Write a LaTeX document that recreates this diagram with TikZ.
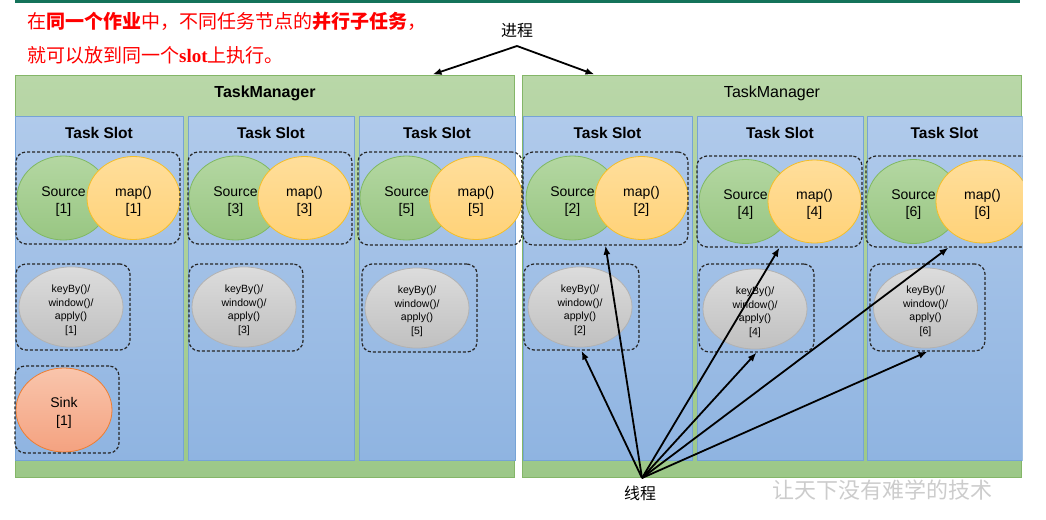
\documentclass[tikz,border=0pt]{standalone}
\usepackage{fontspec}
\setmainfont{Liberation Sans}
\newfontfamily\cjk{Noto Sans CJK SC}
\newfontfamily\tnr{Liberation Serif}
\usetikzlibrary{shapes.geometric,arrows.meta}

\definecolor{tmtop}{RGB}{185,215,168}
\definecolor{tmbot}{RGB}{156,200,136}
\definecolor{tmline}{RGB}{132,182,104}
\definecolor{slottop}{RGB}{176,202,235}
\definecolor{slotbot}{RGB}{143,180,225}
\definecolor{slotline}{RGB}{118,163,214}
\definecolor{srctop}{RGB}{180,215,162}
\definecolor{srcbot}{RGB}{152,198,130}
\definecolor{srcline}{RGB}{128,184,98}
\definecolor{maptop}{RGB}{255,222,155}
\definecolor{mapbot}{RGB}{255,210,120}
\definecolor{mapline}{RGB}{244,190,40}
\definecolor{optop}{RGB}{220,220,220}
\definecolor{opbot}{RGB}{192,192,192}
\definecolor{opline}{RGB}{178,178,178}
\definecolor{sinktop}{RGB}{249,197,172}
\definecolor{sinkbot}{RGB}{244,162,128}
\definecolor{sinkline}{RGB}{237,125,49}
\definecolor{rulecol}{RGB}{20,115,90}

% two-line operator label, nudged down inside its ellipse
\newcommand\oplabel[2]{\rule{0pt}{16pt}#1\\{[#2]}}
% four-line keyBy/window/apply label
\newcommand\kwlabel[1]{\rule{0pt}{14pt}keyBy()/\\window()/\\apply()\\{[#1]}}

\tikzset{
  tm/.style={draw=tmline, line width=1pt, top color=tmtop, bottom color=tmbot,
    minimum width=499pt, minimum height=402pt, inner sep=0pt},
  tmhead/.style={font=\fontsize{16}{16}\selectfont, anchor=base, inner sep=0pt},
  slotbox/.style={draw=slotline, line width=0.8pt, top color=slottop, bottom color=slotbot,
    minimum height=344pt, inner sep=0pt},
  slothead/.style={font=\bfseries\fontsize{15.5}{15.5}\selectfont, anchor=base, inner sep=0pt},
  grp/.style={draw=black!85, dash pattern=on 3pt off 2pt, line width=1.2pt,
    rounded corners=10pt, inner sep=0pt},
  src/.style={ellipse, draw=srcline, line width=0.8pt, top color=srctop, bottom color=srcbot,
    minimum width=93pt, minimum height=84pt, inner sep=0pt, align=center,
    font=\fontsize{14}{17}\selectfont},
  mapop/.style={ellipse, draw=mapline, line width=0.8pt, top color=maptop, bottom color=mapbot,
    minimum width=93pt, minimum height=83pt, inner sep=0pt, align=center,
    font=\fontsize{14}{17}\selectfont},
  kwop/.style={ellipse, draw=opline, line width=0.8pt, top color=optop, bottom color=opbot,
    minimum width=104pt, minimum height=80pt, inner sep=0pt, align=center,
    font=\fontsize{10.5}{13.5}\selectfont},
  sinkop/.style={ellipse, draw=sinkline, line width=0.8pt, top color=sinktop, bottom color=sinkbot,
    minimum width=96pt, minimum height=84pt, inner sep=0pt, align=center,
    font=\fontsize{14}{18}\selectfont},
  wire/.style={line width=1.8pt, -{Latex[length=9pt,width=7pt]}},
  cjklabel/.style={font=\cjk\fontsize{16}{16}\selectfont, inner sep=0pt},
}

\begin{document}
\begin{tikzpicture}[x=1pt,y=-1pt]
\useasboundingbox (0,0) rectangle (1046,519);

% heading rule and explanatory note
\draw[rulecol, line width=3pt] (15,1.5) -- (1020,1.5);
\node[anchor=west, text=red, inner sep=0pt, font=\cjk\fontsize{19}{19}\selectfont] (note1) at (27,21)
  {在\textbf{同一个作业}中，不同任务节点的\textbf{并行子任务}，};
\node[anchor=west, text=red, inner sep=0pt, font=\cjk\fontsize{19}{19}\selectfont] (note2) at (27,55)
  {就可以放到同一个{\tnr\bfseries slot}上执行。};

\begin{scope}
\clip (0,0) rectangle (1022.5,519);

% two task managers
\node[tm] (tmL) at (264.5,276) {};
\node[tm] (tmR) at (771.5,276) {};
\node[tmhead] (hL) at (265,97) {\bfseries TaskManager};
\node[tmhead] (hR) at (772,97) {TaskManager};

% task slots
\node[slotbox, minimum width=168pt] (sl1) at (99,288) {};
\node[slotbox, minimum width=166pt] (sl2) at (271,288) {};
\node[slotbox, minimum width=156pt] (sl3) at (437,288) {};
\node[slotbox, minimum width=169pt] (sl4) at (607.5,288) {};
\node[slotbox, minimum width=166pt] (sl5) at (780,288) {};
\node[slotbox, minimum width=155pt] (sl6) at (944.5,288) {};
\node[slothead] (th1) at (99,138) {Task Slot};
\node[slothead] (th2) at (271,138) {Task Slot};
\node[slothead] (th3) at (437,138) {Task Slot};
\node[slothead] (th4) at (607.5,138) {Task Slot};
\node[slothead] (th5) at (780,138) {Task Slot};
\node[slothead] (th6) at (944.5,138) {Task Slot};

% source + map chains
\node[src] (src1) at (63.5,198) {\oplabel{Source}{1}};
\node[mapop] (map1) at (133.5,198) {\oplabel{map()}{1}};
\node[src] (src3) at (235.5,198) {\oplabel{Source}{3}};
\node[mapop] (map3) at (304.5,198) {\oplabel{map()}{3}};
\node[src] (src5) at (406.5,198) {\oplabel{Source}{5}};
\node[mapop] (map5) at (476,198) {\oplabel{map()}{5}};
\node[src] (src2) at (572.5,198) {\oplabel{Source}{2}};
\node[mapop] (map2) at (641.5,198) {\oplabel{map()}{2}};
\node[src] (src4) at (745.5,201.5) {\oplabel{Source}{4}};
\node[mapop] (map4) at (814.5,201.5) {\oplabel{map()}{4}};
\node[src] (src6) at (913.5,201.5) {\oplabel{Source}{6}};
\node[mapop] (map6) at (982.5,201.5) {\oplabel{map()}{6}};

% keyBy/window/apply operators
\node[kwop] (kw1) at (71,307) {\kwlabel{1}};
\node[kwop] (kw3) at (244,307) {\kwlabel{3}};
\node[kwop] (kw5) at (417,308) {\kwlabel{5}};
\node[kwop] (kw2) at (580,307) {\kwlabel{2}};
\node[kwop] (kw4) at (755,309) {\kwlabel{4}};
\node[kwop] (kw6) at (925.5,308) {\kwlabel{6}};

% sink
\node[sinkop] (sink1) at (64,410) {\oplabel{Sink}{1}};

% dashed groups around the subtasks sharing a thread
\node[grp, minimum width=164pt, minimum height=92pt] (gsm1) at (98,198) {};
\node[grp, minimum width=164pt, minimum height=92pt] (gsm3) at (270,198) {};
\node[grp, minimum width=164pt, minimum height=93pt] (gsm5) at (440,198.5) {};
\node[grp, minimum width=165pt, minimum height=93pt] (gsm2) at (605.5,198.5) {};
\node[grp, minimum width=165pt, minimum height=91pt] (gsm4) at (779.5,201.5) {};
\node[grp, minimum width=165pt, minimum height=91pt] (gsm6) at (948.5,201.5) {};
\node[grp, minimum width=114pt, minimum height=86pt] (gkw1) at (73,307) {};
\node[grp, minimum width=114pt, minimum height=87pt] (gkw3) at (246,307.5) {};
\node[grp, minimum width=115pt, minimum height=88pt] (gkw5) at (419.5,308) {};
\node[grp, minimum width=115pt, minimum height=86pt] (gkw2) at (581.5,307) {};
\node[grp, minimum width=115pt, minimum height=88pt] (gkw4) at (756.5,308) {};
\node[grp, minimum width=115pt, minimum height=87pt] (gkw6) at (927.5,307.5) {};
\node[grp, minimum width=104pt, minimum height=87pt] (gsink1) at (67,409.5) {};
\end{scope}

% process label
\node[cjklabel] (proc) at (517,31) {进程};
\coordinate (procpt) at (517,46);
\draw[wire] (procpt) -- ([xshift=-82pt]tmL.north east);
\draw[wire] (procpt) -- ([xshift=73pt]tmR.north west);

% thread label
\node[cjklabel] (thr) at (640,493) {线程};
\coordinate (thrpt) at (642,478);
\draw[wire] (thrpt) -- (gsm2.south);
\draw[wire] (thrpt) -- (gkw2.south);
\draw[wire] (thrpt) -- (gsm4.south);
\draw[wire] (thrpt) -- (gkw4.south);
\draw[wire] (thrpt) -- (gsm6.south);
\draw[wire] (thrpt) -- (gkw6.south);

% footer slogan
\node[text=black!20, inner sep=0pt, font=\cjk\fontsize{22}{22}\selectfont] (wm) at (882,490)
  {让天下没有难学的技术};
\end{tikzpicture}
\end{document}
